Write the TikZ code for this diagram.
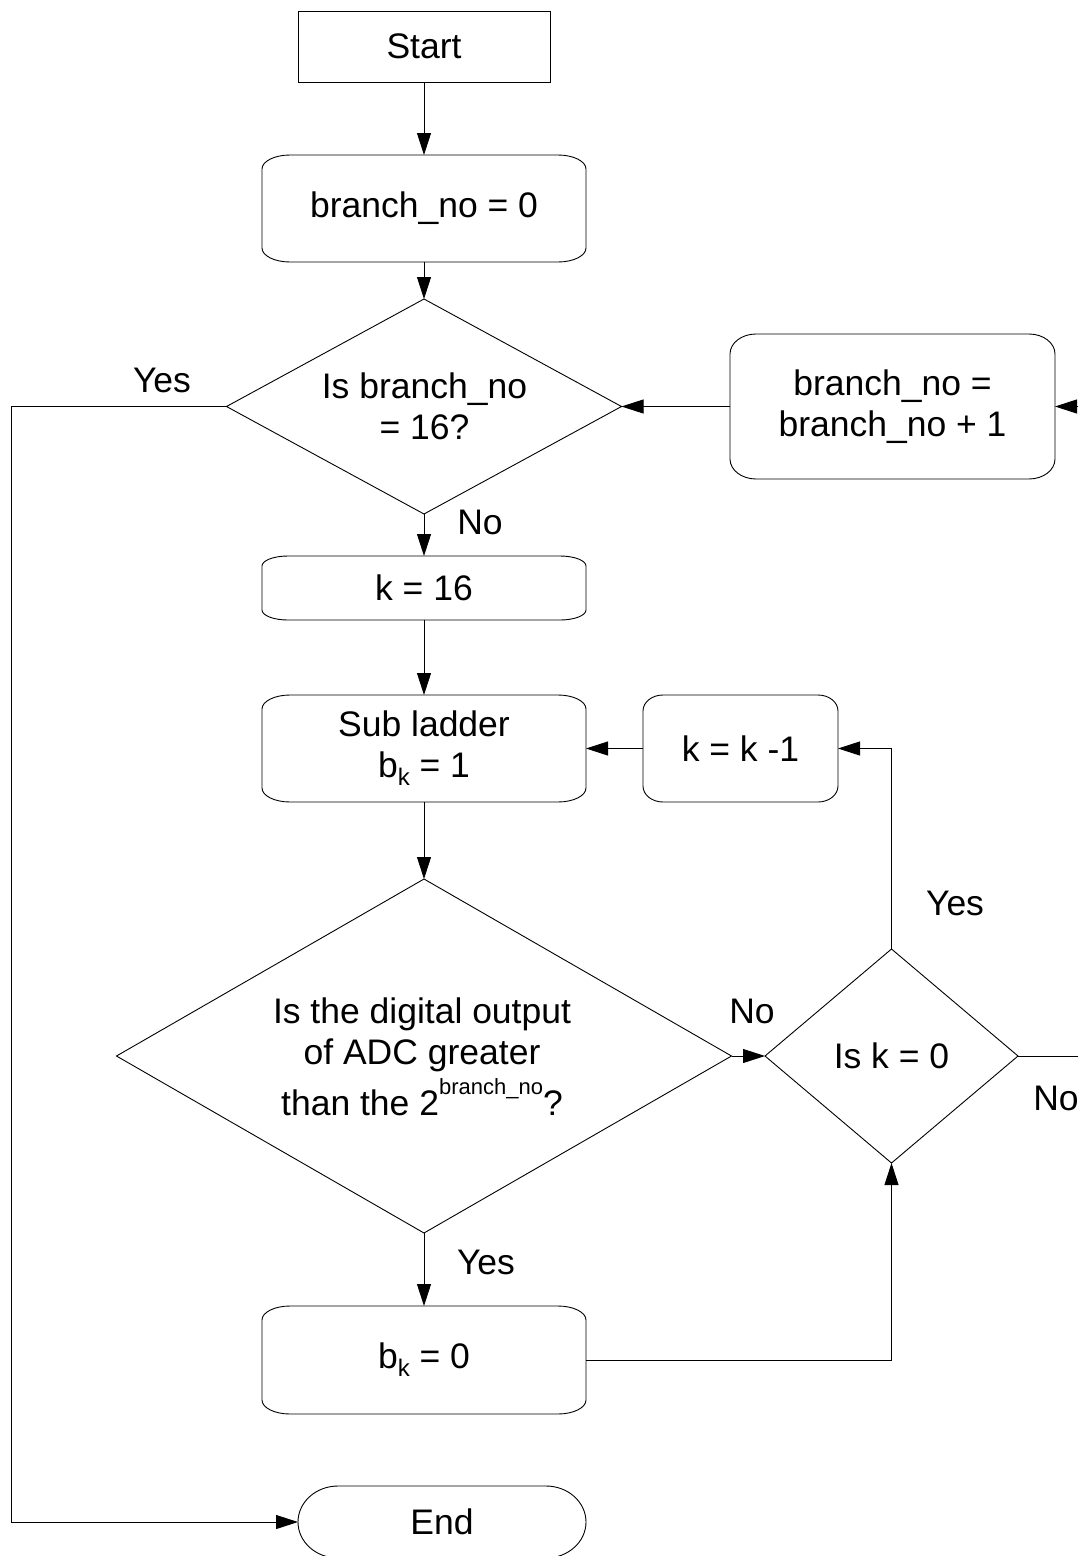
\documentclass[tikz,border=0pt]{standalone}
\usepackage{fontspec}
\setmainfont{Liberation Sans}
\usetikzlibrary{arrows.meta,shapes.geometric}
\newcommand{\subk}{\raisebox{-8pt}{\fontsize{24}{24}\selectfont k}}
\tikzset{
  base/.style={inner sep=0pt, outer sep=0pt, align=center},
  boxnode/.style={base, rectangle},
  dia/.style={base, diamond, draw, line width=0.9pt},
  lbl/.style={base},
  arr/.style={line width=0.9pt, -{Triangle[length=22pt,width=14pt]}},
  ln/.style={line width=0.9pt},
}
\begin{document}
\begin{tikzpicture}[x=1pt,y=-1pt,font=\fontsize{35.5}{41}\selectfont]
\useasboundingbox (0,0) rectangle (1078,1556);
\fill[white] (0,0) rectangle (1078,1556);

% nodes
\node[boxnode, draw, line width=0.9pt, minimum width=252pt, minimum height=71pt] (start) at (424,46.5) {Start};
\node[boxnode, minimum width=324pt, minimum height=107pt] (b0) at (424,208.5) {branch\_no = 0};
\node[dia, minimum width=395pt, minimum height=215pt] (d1) at (424,406.5) {};
\node[base] (d1t) at (424.5,406.5) {Is branch\_no\\= 16?};
\node[boxnode, minimum width=325pt, minimum height=145pt] (inc) at (892.5,406.5) {branch\_no =\\branch\_no + 1};
\node[boxnode, minimum width=324pt, minimum height=64pt] (k16) at (424,588) {k = 16};
\node[boxnode, minimum width=324pt, minimum height=107pt] (sub) at (424,748.5) {Sub ladder\\b\subk{} = 1};
\node[boxnode, minimum width=195pt, minimum height=107pt] (kdec) at (740.5,748.5) {k = k -1};
\node[dia, minimum width=615pt, minimum height=354pt] (d2) at (424,1056) {};
\node[base] (d2t) at (422,1057) {Is the digital output\\of ADC greater\\[6pt]than the 2\raisebox{21pt}{\fontsize{22}{22}\selectfont branch\_no}?};
\node[dia, minimum width=253pt, minimum height=214pt] (d3) at (891.5,1056) {};
\node[base] (d3t) at (891.5,1056) {Is k = 0};
\node[boxnode, minimum width=324pt, minimum height=108pt] (bk0) at (424,1360) {b\subk{} = 0};
\node[boxnode, minimum width=288pt, minimum height=72pt] (end) at (442,1522) {End};

% rounded outlines
\foreach \n/\rx/\ry in {b0/28/14, inc/26/20, k16/26/10, sub/28/14, kdec/20/16, bk0/28/14, end/40/36}{
  \draw[ln] ([xshift=\rx pt]\n.north west) -- ([xshift=-\rx pt]\n.north east)
    arc[start angle=90,end angle=0,x radius=\rx pt,y radius=\ry pt]
    -- ([yshift=\ry pt]\n.south east)
    arc[start angle=0,end angle=-90,x radius=\rx pt,y radius=\ry pt]
    -- ([xshift=\rx pt]\n.south west)
    arc[start angle=-90,end angle=-180,x radius=\rx pt,y radius=\ry pt]
    -- ([yshift=-\ry pt]\n.north west)
    arc[start angle=180,end angle=90,x radius=\rx pt,y radius=\ry pt] -- cycle;
}

% labels
\node[lbl] (l1) at (162,380) {Yes};
\node[lbl] (l2) at (480,522) {No};
\node[lbl] (l3) at (752,1011) {No};
\node[lbl] (l4) at (955,903) {Yes};
\node[lbl] (l5) at (1056,1098) {No};
\node[lbl] (l6) at (486,1262) {Yes};

% helper coordinates
\coordinate (L) at (11,0);
\coordinate (R) at (1110,0);

% connectors
\draw[arr] (start.south) -- (b0.north);
\draw[arr] (b0.south) -- (d1.north);
\draw[arr] (inc.west) -- (d1.east);
\draw[arr] (d1.south) -- (k16.north);
\draw[arr] (k16.south) -- (sub.north);
\draw[arr] (kdec.west) -- (sub.east);
\draw[arr] (sub.south) -- (d2.north);
\draw[arr] (d2.east) -- (d3.west);
\draw[arr] (d3.north) |- (kdec.east);
\draw[arr] (d2.south) -- (bk0.north);
\draw[arr] (bk0.east) -| (d3.south);
\draw[arr] (d1.west) -- (d1.west -| L) |- (end.west);
\draw[arr] (d3.east) -- (d3.east -| R) |- (inc.east);
\end{tikzpicture}
\end{document}
